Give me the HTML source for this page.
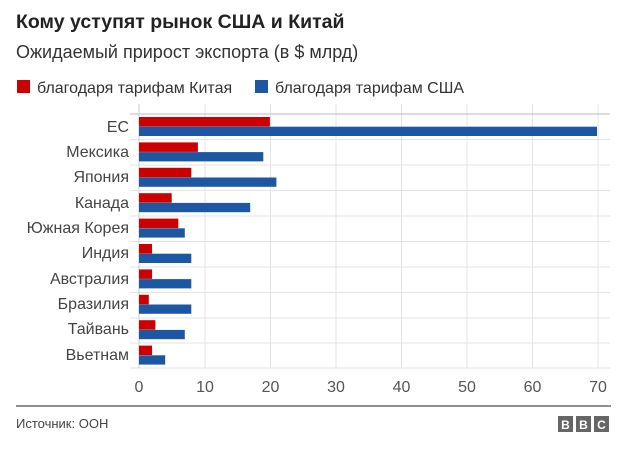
<!DOCTYPE html>
<html><head><meta charset="utf-8"><style>
body{margin:0;background:#fff;}
svg text{font-family:"Liberation Sans",Arial,sans-serif;}
</style></head><body>
<svg width="627" height="455" xmlns="http://www.w3.org/2000/svg">
<text x="16" y="28" font-size="19.5" font-weight="bold" fill="#222">Кому уступят рынок США и Китай</text>
<text x="16" y="58" font-size="18" fill="#333">Ожидаемый прирост экспорта (в $ млрд)</text>
<rect x="17" y="80" width="13" height="13" fill="#cc0000"/>
<text x="37" y="93" font-size="16" fill="#333">благодаря тарифам Китая</text>
<rect x="255" y="80" width="13" height="13" fill="#1d57a3"/>
<text x="275" y="93" font-size="16" fill="#333">благодаря тарифам США</text>
<g stroke="#e3e3e3" stroke-width="1">
<line x1="205" y1="104" x2="205" y2="368"/><line x1="270.5" y1="104" x2="270.5" y2="368"/>
<line x1="336" y1="104" x2="336" y2="368"/><line x1="401.5" y1="104" x2="401.5" y2="368"/>
<line x1="467" y1="104" x2="467" y2="368"/><line x1="532.5" y1="104" x2="532.5" y2="368"/>
<line x1="598" y1="104" x2="598" y2="368"/>
<line x1="130" y1="139.5" x2="610" y2="139.5"/><line x1="130" y1="165" x2="610" y2="165"/>
<line x1="130" y1="190.5" x2="610" y2="190.5"/><line x1="130" y1="216" x2="610" y2="216"/>
<line x1="130" y1="241.5" x2="610" y2="241.5"/><line x1="130" y1="267" x2="610" y2="267"/>
<line x1="130" y1="292.5" x2="610" y2="292.5"/><line x1="130" y1="318" x2="610" y2="318"/>
<line x1="130" y1="343" x2="610" y2="343"/><line x1="130" y1="368" x2="610" y2="368"/>
</g>
<line x1="130" y1="114" x2="610" y2="114" stroke="#bbb"/>
<line x1="139" y1="104" x2="139" y2="368" stroke="#ccc"/>
<g fill="#cc0000">
<rect x="139" y="117" width="130.9" height="9.5"/>
<rect x="139" y="142.4" width="58.9" height="9.5"/>
<rect x="139" y="167.8" width="52.3" height="9.5"/>
<rect x="139" y="193.2" width="32.7" height="9.5"/>
<rect x="139" y="218.6" width="39.3" height="9.5"/>
<rect x="139" y="244" width="13.1" height="9.5"/>
<rect x="139" y="269.4" width="13.1" height="9.5"/>
<rect x="139" y="294.8" width="9.8" height="9.5"/>
<rect x="139" y="320.2" width="16.4" height="9.5"/>
<rect x="139" y="345.6" width="13.1" height="9.5"/>
</g>
<g fill="#1d57a3">
<rect x="139" y="126.7" width="458" height="9.3"/>
<rect x="139" y="152.1" width="124.3" height="9.3"/>
<rect x="139" y="177.5" width="137.4" height="9.3"/>
<rect x="139" y="202.9" width="111.2" height="9.3"/>
<rect x="139" y="228.3" width="45.8" height="9.3"/>
<rect x="139" y="253.7" width="52.3" height="9.3"/>
<rect x="139" y="279.1" width="52.3" height="9.3"/>
<rect x="139" y="304.5" width="52.3" height="9.3"/>
<rect x="139" y="329.9" width="45.8" height="9.3"/>
<rect x="139" y="355.3" width="26.2" height="9.3"/>
</g>
<g font-size="16" fill="#444" text-anchor="end">
<text x="129" y="132">ЕС</text><text x="129" y="157">Мексика</text>
<text x="129" y="182">Япония</text><text x="129" y="208">Канада</text>
<text x="129" y="233">Южная Корея</text><text x="129" y="258">Индия</text>
<text x="129" y="284">Австралия</text><text x="129" y="309">Бразилия</text>
<text x="129" y="334">Тайвань</text><text x="129" y="360">Вьетнам</text>
</g>
<g font-size="16" fill="#555" text-anchor="middle">
<text x="139" y="392">0</text><text x="205" y="392">10</text><text x="270.5" y="392">20</text>
<text x="336" y="392">30</text><text x="401.5" y="392">40</text><text x="467" y="392">50</text>
<text x="532.5" y="392">60</text><text x="598" y="392">70</text>
</g>
<line x1="16" y1="406" x2="611" y2="406" stroke="#222" stroke-width="1"/>
<text x="16" y="428" font-size="13" fill="#444">Источник: ООН</text>
<g font-size="12" font-weight="bold" fill="#fff" text-anchor="middle">
<rect x="558" y="416" width="15" height="16" fill="#666"/><text x="565.5" y="429">B</text>
<rect x="576" y="416" width="15" height="16" fill="#666"/><text x="583.5" y="429">B</text>
<rect x="594" y="416" width="15" height="16" fill="#666"/><text x="601.5" y="429">C</text>
</g>
</svg>
</body></html>
